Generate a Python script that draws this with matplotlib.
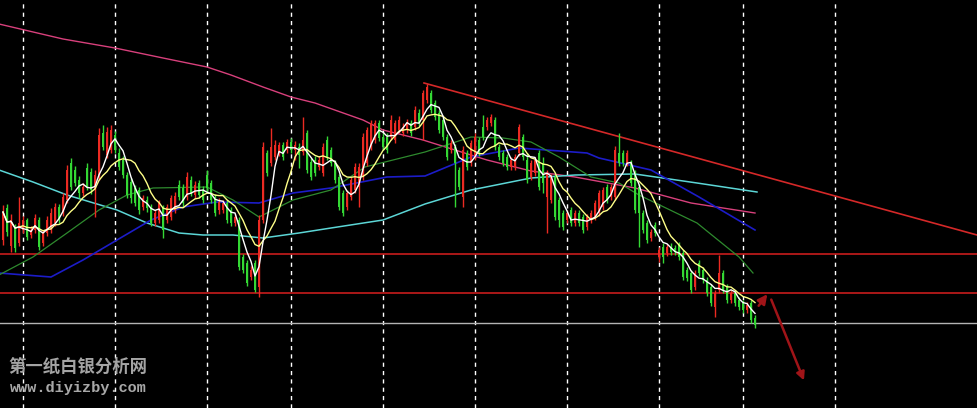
import numpy as np
import pandas as pd
import matplotlib
matplotlib.use("Agg")
import matplotlib.pyplot as plt

# daily candles (open, close, high, low)
opens = [160, 192, 154, 172, 157, 170, 180, 165, 170, 180, 157, 167, 170, 177, 193, 187, 200, 237, 230, 220,
         207, 232, 228, 210, 223, 267, 245, 250, 265, 247, 240, 225, 218, 212, 210, 193, 200, 193, 177, 180,
         192, 180, 183, 190, 215, 212, 203, 220, 205, 217, 210, 225, 217, 203, 190, 190, 197, 190, 177, 180,
         143, 137, 123, 137, 113, 180, 247, 237, 243, 247, 255, 250, 258, 250, 253, 248, 267, 238, 240, 233,
         227, 260, 250, 237, 223, 207, 193, 203, 210, 213, 223, 237, 253, 260, 277, 263, 263, 263, 260, 270,
         267, 270, 277, 273, 287, 280, 300, 307, 297, 287, 280, 263, 250, 253, 230, 203, 247, 237, 243, 260,
         273, 273, 277, 280, 253, 247, 243, 233, 233, 247, 263, 240, 223, 227, 247, 237, 203, 200, 223, 200,
         187, 180, 190, 177, 187, 183, 173, 180, 183, 187, 193, 213, 203, 203, 247, 247, 237, 237, 227, 213,
         187, 177, 162, 175, 143, 153, 147, 153, 152, 155, 147, 130, 127, 113, 137, 130, 120, 113, 93, 110,
         127, 113, 100, 107, 100, 97, 90, 97, 82]
closes = [188, 168, 180, 152, 177, 180, 163, 170, 182, 153, 167, 180, 187, 193, 180, 203, 230, 213, 217, 207,
          213, 213, 210, 225, 265, 253, 268, 270, 250, 233, 225, 205, 202, 197, 190, 202, 192, 177, 187, 197,
          170, 193, 202, 204, 203, 197, 223, 207, 215, 205, 200, 212, 200, 187, 198, 197, 180, 177, 183, 133,
          130, 117, 130, 110, 180, 253, 227, 253, 255, 255, 243, 258, 250, 255, 245, 260, 230, 223, 227, 240,
          253, 243, 237, 220, 193, 187, 207, 220, 233, 233, 263, 270, 277, 277, 262, 253, 250, 280, 277, 280,
          273, 277, 267, 290, 277, 307, 313, 290, 283, 270, 263, 243, 257, 237, 213, 250, 233, 257, 263, 247,
          263, 280, 283, 253, 243, 237, 233, 240, 243, 273, 243, 220, 237, 240, 213, 217, 227, 223, 183, 180,
          173, 187, 177, 187, 177, 170, 183, 187, 197, 207, 210, 200, 213, 250, 237, 237, 247, 217, 190, 187,
          170, 160, 168, 167, 150, 143, 153, 148, 148, 143, 123, 122, 110, 127, 127, 120, 107, 97, 107, 127,
          110, 100, 107, 97, 93, 90, 95, 80, 75]
highs = [195, 196, 186, 176, 203, 184, 182, 174, 186, 183, 170, 184, 192, 197, 196, 207, 235, 242, 234, 224,
         217, 237, 232, 230, 272, 275, 273, 275, 269, 252, 244, 228, 222, 215, 213, 205, 204, 196, 190, 200,
         195, 196, 205, 208, 220, 216, 228, 224, 219, 220, 214, 230, 220, 206, 202, 200, 200, 193, 186, 183,
         146, 140, 134, 140, 185, 258, 250, 272, 260, 258, 258, 261, 262, 259, 257, 283, 270, 242, 244, 244,
         257, 264, 253, 240, 226, 210, 210, 223, 237, 237, 267, 273, 280, 280, 280, 267, 267, 285, 280, 284,
         277, 281, 280, 294, 291, 310, 316, 310, 300, 290, 283, 266, 260, 256, 233, 254, 250, 260, 267, 263,
         285, 283, 286, 283, 256, 250, 246, 243, 246, 276, 266, 247, 240, 243, 250, 243, 230, 226, 226, 203,
         190, 190, 193, 190, 190, 186, 186, 190, 200, 210, 213, 216, 216, 254, 267, 250, 250, 240, 230, 216,
         190, 180, 171, 178, 153, 157, 156, 157, 155, 158, 150, 133, 130, 130, 140, 133, 123, 116, 110, 145,
         130, 116, 110, 110, 103, 100, 98, 100, 85]
lows = [155, 164, 148, 148, 154, 167, 160, 162, 167, 150, 154, 164, 167, 174, 177, 184, 197, 210, 214, 202,
        204, 210, 206, 183, 220, 250, 242, 247, 247, 230, 222, 202, 197, 194, 186, 190, 188, 174, 174, 177,
        162, 177, 180, 187, 200, 193, 200, 204, 202, 202, 197, 208, 197, 184, 186, 187, 177, 174, 174, 130,
        127, 114, 120, 108, 103, 177, 224, 234, 240, 244, 240, 247, 247, 240, 232, 245, 227, 220, 224, 230,
        224, 240, 234, 217, 190, 184, 190, 200, 207, 193, 220, 234, 250, 257, 259, 250, 247, 260, 257, 267,
        264, 267, 264, 270, 274, 260, 297, 287, 280, 267, 260, 240, 247, 193, 210, 193, 230, 234, 240, 244,
        260, 270, 274, 250, 240, 234, 230, 230, 230, 244, 240, 217, 220, 224, 210, 207, 167, 197, 180, 173,
        170, 177, 174, 174, 174, 167, 170, 177, 180, 184, 190, 197, 200, 200, 234, 234, 234, 214, 187, 153,
        167, 157, 159, 164, 138, 137, 144, 145, 145, 140, 120, 119, 107, 110, 124, 117, 104, 94, 83, 107,
        107, 97, 97, 94, 90, 87, 87, 77, 72]

# moving averages (candle index, value)
ma_green_x = [-1, 7.5, 16, 24, 31, 37.5, 51, 57.5, 64, 72.5, 82, 90.5, 105.5, 117, 125, 132, 139, 147, 154, 159,
              173.5, 184, 187.5]
ma_green_y = [125, 143, 167, 190, 205, 212, 213, 200, 183, 200, 210, 233, 248, 263, 262, 258, 243, 223, 217, 205,
              177, 143, 127]
ma_blue_x = [-1, 12, 20, 28.5, 37, 45, 53.5, 64, 72.5, 82, 96, 105.5, 117, 129, 146, 149, 162, 174, 188]
ma_blue_y = [127, 123, 140, 160, 180, 193, 198, 197, 207, 212, 223, 224, 243, 252, 247, 242, 230, 203, 170]
ma_cyan_x = [-1, 7.5, 16, 28.5, 36, 44, 50, 57.5, 65, 74, 82, 95, 105.5, 117, 132, 143, 158, 173.5, 188.5]
ma_cyan_y = [230, 218, 205, 190, 177, 167, 165, 165, 162, 167, 172, 180, 196, 210, 222, 225, 226, 217, 208]
ma_pink_x = [-1, 15, 28, 40, 51, 57, 65, 72, 78, 90, 95, 105, 121, 132, 143, 158, 172, 188]
ma_pink_y = [376, 361, 352, 342, 333, 325, 313, 303, 297, 280, 270, 260, 240, 229, 223, 212, 197, 187]

support_levels = [146, 107]
last_level = 77
trend_x = [105.25, 243.5]
trend_y = [317, 165]

month_ticks = [5, 28, 51, 72, 95, 118, 141, 164, 185, 208]

UP = '#ec2a22'
DOWN = '#34d834'

fig = plt.figure(figsize=(9.77, 4.08), dpi=100, facecolor='black')
ax = fig.add_axes([0, 0, 1, 1])
ax.set_facecolor('black')

for t in month_ticks:
    ax.axvline(t, color='white', lw=1.0, ls=(0, (3, 3)), zorder=1)

for lv in support_levels:
    ax.axhline(lv, color='#c81c1c', lw=1.2, zorder=2)
ax.axhline(last_level, color='#b4b4b4', lw=1.0, zorder=2)
ax.plot(trend_x, trend_y, color='#d42828', lw=1.2, zorder=2)

ax.plot(ma_pink_x, ma_pink_y, color='#d8407c', lw=1.0, zorder=3)
ax.plot(ma_cyan_x, ma_cyan_y, color='#5cd6d6', lw=1.1, zorder=3)
ax.plot(ma_blue_x, ma_blue_y, color='#1c1cc8', lw=1.2, zorder=3)
ax.plot(ma_green_x, ma_green_y, color='#2e8a2e', lw=0.9, zorder=3)

o = np.array(opens, float)
c = np.array(closes, float)
h = np.array(highs, float)
l = np.array(lows, float)
idx = np.arange(len(c))
cols = np.where(c >= o, UP, DOWN)

ax.vlines(idx, l, h, colors=cols, lw=1.0, zorder=4)
body = np.maximum(np.abs(c - o), 1.0)
ax.bar(idx, body, bottom=np.minimum(o, c), width=0.72, color=cols, lw=0, zorder=5)

close_s = pd.Series(c)
ax.plot(idx, close_s.rolling(10, min_periods=1).mean(), color='#ffff88', lw=1.0, zorder=6)
ax.plot(idx, close_s.rolling(5, min_periods=1).mean(), color='white', lw=1.0, zorder=7)

# hand drawn arrows
ax.annotate('', xy=(191.5, 108), xytext=(188.5, 92),
            arrowprops=dict(arrowstyle='-|>', color='#a01418', lw=1.8, mutation_scale=14), zorder=8)
ax.annotate('', xy=(200.5, 17), xytext=(191.8, 103),
            arrowprops=dict(arrowstyle='-|>', color='#a01418', lw=1.8, mutation_scale=12), zorder=8)

ax.set_xlim(-0.75, 243.5)
ax.set_ylim(-8, 400)
ax.axis('off')

fig.text(8 / 977, 1 - 367 / 408, '第一纸白银分析网', color='#a4a4a4', fontsize=12.5,
         family=['Noto Sans CJK SC', 'DejaVu Sans'], weight='bold', va='center', ha='left')
fig.text(10 / 977, 1 - 388 / 408, 'www.diyizby.com', color='#a8a8a8', fontsize=11,
         family='Liberation Mono', weight='bold', va='center', ha='left')

fig.savefig('out.png', dpi=100, facecolor='black')
